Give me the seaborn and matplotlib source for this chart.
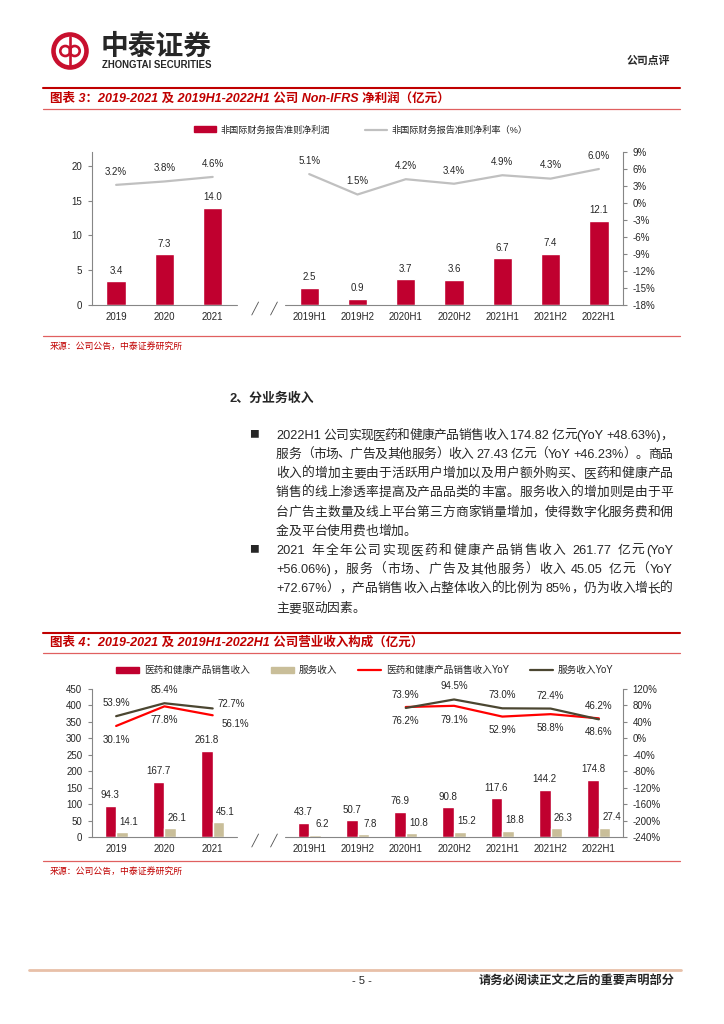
import re
import numpy as np
import pandas as pd
import matplotlib
matplotlib.use('Agg')
import matplotlib.pyplot as plt
import seaborn as sns
from matplotlib.patches import Patch, Circle
from matplotlib.lines import Line2D
from matplotlib.ticker import FuncFormatter

sns.set_style('white')
plt.rcParams['font.family'] = ['Liberation Sans', 'Noto Sans CJK SC', 'DejaVu Sans']
plt.rcParams['axes.unicode_minus'] = False

# ---- 数据 ----
years = ['2019', '2020', '2021']
halves = ['2019H1', '2019H2', '2020H1', '2020H2', '2021H1', '2021H2', '2022H1']
GAP = ' '
order = years + [GAP] + halves
periods = years + halves
seg = ['year'] * 3 + ['half'] * 7

# 图表3 Non-IFRS 净利润（亿元）与净利率（%）
profit = [3.4, 7.3, 14.0, 2.5, 0.9, 3.7, 3.6, 6.7, 7.4, 12.1]
margin = [3.2, 3.8, 4.6, 5.1, 1.5, 4.2, 3.4, 4.9, 4.3, 6.0]

# 图表4 营业收入构成（亿元）与同比（%）
drug_rev = [94.3, 167.7, 261.8, 43.7, 50.7, 76.9, 90.8, 117.6, 144.2, 174.8]
service_rev = [14.1, 26.1, 45.1, 6.2, 7.8, 10.8, 15.2, 18.8, 26.3, 27.4]
yoy_periods = ['2019', '2020', '2021', '2020H1', '2020H2', '2021H1', '2021H2', '2022H1']
yoy_seg = ['year'] * 3 + ['half'] * 5
drug_yoy = [30.1, 77.8, 56.1, 76.2, 79.1, 52.9, 58.8, 48.6]
service_yoy = [53.9, 85.4, 72.7, 73.9, 94.5, 73.0, 72.4, 46.2]

RED = '#C0002F'
TAN = '#C9BE99'
GRAY_LINE = '#C0C0C0'
RED_LINE = '#FF0000'
DARK_LINE = '#4B4631'
AXIS_GRAY = '#868686'
TITLE_RED = '#C00000'
SOFT_RED = '#E06060'

W, H = 724, 1024
fig = plt.figure(figsize=(W / 100, H / 100), dpi=100)

# 页面层，像素坐标
page = fig.add_axes([0, 0, 1, 1])
page.set_xlim(0, W)
page.set_ylim(H, 0)
page.axis('off')


def rect(l, t, r, b):
    return [l / W, 1 - b / H, (r - l) / W, (b - t) / H]


def style_axes(ax, axr, ylim, rlim, yticks, rticks, h_px):
    n = len(order)
    ax.set_xlim(-0.5, n - 0.5)
    ax.set_ylim(*ylim)
    axr.set_ylim(*rlim)
    ax.set_yticks(yticks)
    axr.set_yticks(rticks)
    axr.yaxis.set_major_formatter(FuncFormatter(lambda v, p: f'{v:.0f}%'))
    ax.set_xticks(range(n))
    ax.set_xticklabels(order)
    ax.set_xticks(np.arange(-0.5, n), minor=True)
    ax.tick_params(axis='x', which='major', length=0, pad=5, labelsize=7)
    ax.tick_params(axis='x', which='minor', length=3, width=0.8, color=AXIS_GRAY, direction='out')
    for a in (ax, axr):
        a.tick_params(axis='y', length=3, width=0.8, color=AXIS_GRAY, pad=4, labelsize=7, direction='out')
        a.set_xlabel('')
        a.set_ylabel('')
        a.set_facecolor('none')
        for s in a.spines.values():
            s.set_visible(False)
    ax.spines['left'].set_visible(True)
    ax.spines['left'].set_color(AXIS_GRAY)
    ax.spines['left'].set_linewidth(0.8)
    axr.spines['right'].set_visible(True)
    axr.spines['right'].set_color(AXIS_GRAY)
    axr.spines['right'].set_linewidth(0.8)
    # 断开的横轴
    gi = order.index(GAP)
    ax.axhline(ylim[0], xmin=0, xmax=gi / n, color=AXIS_GRAY, lw=0.8, clip_on=False)
    ax.axhline(ylim[0], xmin=(gi + 1) / n, xmax=1, color=AXIS_GRAY, lw=0.8, clip_on=False)
    tr = ax.get_xaxis_transform()
    for dx in (-0.12, 0.27):
        ax.plot([gi + dx - 0.07, gi + dx + 0.07], [-10 / h_px, 3 / h_px], color='#505050',
                lw=0.6, transform=tr, clip_on=False)


# ---- 图表 3 ----
ax1 = fig.add_axes(rect(92, 152, 623, 305))
df_profit = pd.DataFrame({'period': periods, 'profit': profit})
sns.barplot(data=df_profit, x='period', y='profit', order=order, color=RED,
            saturation=1, width=0.4, ax=ax1)
for c in ax1.containers:
    ax1.bar_label(c, fmt='%.1f', padding=4, fontsize=7)

ax1r = ax1.twinx()
df_margin = pd.DataFrame({'x': [order.index(p) for p in periods], 'margin': margin, 'seg': seg})
sns.lineplot(data=df_margin, x='x', y='margin', units='seg', estimator=None,
             color=GRAY_LINE, linewidth=1.6, ax=ax1r)
for x, v in zip(df_margin['x'], df_margin['margin']):
    ax1r.annotate(f'{v:.1f}%', (x, v), xytext=(0, 9.5), textcoords='offset points',
                  ha='center', va='center', fontsize=7)
style_axes(ax1, ax1r, (0, 22), (-18, 9), range(0, 21, 5), range(-18, 10, 3), 153)

fig.legend(handles=[Patch(color=RED), Line2D([], [], color=GRAY_LINE, lw=1.6)],
           labels=['非国际财务报告准则净利润', '非国际财务报告准则净利率（%）'],
           loc='center', bbox_to_anchor=(361 / W, 1 - 130 / H), ncol=2, frameon=False,
           fontsize=6.6, handlelength=2.4, handleheight=0.6, handletextpad=0.5, columnspacing=3.8)

# ---- 图表 4 ----
ax2 = fig.add_axes(rect(92, 689, 623, 837))
df_rev = pd.DataFrame({
    'period': periods * 2,
    'value': drug_rev + service_rev,
    'type': ['医药和健康产品销售收入'] * 10 + ['服务收入'] * 10,
})
sns.barplot(data=df_rev, x='period', y='value', hue='type', order=order,
            hue_order=['医药和健康产品销售收入', '服务收入'], palette=[RED, TAN],
            saturation=1, width=0.48, legend=False, ax=ax2)
for i, c in enumerate(ax2.containers):
    labs = ax2.bar_label(c, fmt='%.1f', padding=4, fontsize=7)
    if i == 1:
        for t in labs:
            t.xyann = (5, 4)

ax2r = ax2.twinx()
df_yoy = pd.DataFrame({
    'x': [order.index(p) for p in yoy_periods] * 2,
    'yoy': drug_yoy + service_yoy,
    'series': ['drug'] * 8 + ['service'] * 8,
    'seg': yoy_seg * 2,
})
sns.lineplot(data=df_yoy, x='x', y='yoy', hue='series', units='seg', estimator=None,
             palette={'drug': RED_LINE, 'service': DARK_LINE}, linewidth=1.6, legend=False, ax=ax2r)
for i, (x, v) in enumerate(zip(df_yoy['x'][:8], drug_yoy)):
    off = (16.5, -6) if i == 2 else (0, -10)
    ax2r.annotate(f'{v:.1f}%', (x, v), xytext=off, textcoords='offset points',
                  ha='center', va='center', fontsize=7)
for i, (x, v) in enumerate(zip(df_yoy['x'][8:], service_yoy)):
    off = (13, 3) if i == 2 else (0, 9.4)
    ax2r.annotate(f'{v:.1f}%', (x, v), xytext=off, textcoords='offset points',
                  ha='center', va='center', fontsize=7)
style_axes(ax2, ax2r, (0, 450), (-240, 120), range(0, 451, 50), range(-240, 121, 40), 148)

fig.legend(handles=[Patch(color=RED), Patch(color=TAN),
                    Line2D([], [], color=RED_LINE, lw=1.6), Line2D([], [], color=DARK_LINE, lw=1.6)],
           labels=['医药和健康产品销售收入', '服务收入', '医药和健康产品销售收入YoY', '服务收入YoY'],
           loc='center', bbox_to_anchor=(365 / W, 1 - 670 / H), ncol=4, frameon=False,
           fontsize=6.9, handlelength=2.4, handleheight=0.6, handletextpad=0.5, columnspacing=2.2)

# ---- 页眉 ----
page.add_patch(Circle((70, 51), 16.5, fill=False, ec='#C8102E', lw=3.3))
page.add_patch(Circle((65.3, 51), 5, fill=False, ec='#C8102E', lw=1.9))
page.add_patch(Circle((74.7, 51), 5, fill=False, ec='#C8102E', lw=1.9))
page.plot([70, 70], [37, 65], color='#C8102E', lw=1.9)
page.text(101, 47, '中泰证券', fontsize=20, fontweight='bold', va='center', ha='left',
          family=['Noto Sans CJK SC'])
page.text(102, 65, 'ZHONGTAI SECURITIES', fontsize=6.9, fontweight='bold', va='center', ha='left')
page.text(670, 61, '公司点评', fontsize=7.8, fontweight='bold', va='center', ha='right')


def block_frame(y_top, y_title, y_low, y_src, y_srctxt, title):
    page.plot([43, 680], [y_top, y_top], color=TITLE_RED, lw=1.5)
    page.text(50, y_title, title, color=TITLE_RED, fontsize=9, fontweight='bold',
              style='italic', va='center', ha='left')
    page.plot([43, 680], [y_low, y_low], color=SOFT_RED, lw=0.9)
    page.plot([43, 680], [y_src, y_src], color=SOFT_RED, lw=0.9)
    page.text(50, y_srctxt, '来源：公司公告，中泰证券研究所', color=TITLE_RED, fontsize=6.4,
              va='center', ha='left')


block_frame(88, 99, 109, 336, 346, '图表 3：2019-2021 及 2019H1-2022H1 公司 Non-IFRS 净利润（亿元）')
block_frame(633, 643, 653, 861, 871, '图表 4：2019-2021 及 2019H1-2022H1 公司营业收入构成（亿元）')

# ---- 正文 ----
renderer = fig.canvas.get_renderer()


def text_line(s, y, x0=276, x1=None, fs=9.2):
    toks = re.findall(r'[\x21-\x7e]+| +|.', s)
    yb = y + 0.36 * fs * 100 / 72
    items = []
    for t in toks:
        if t.strip() == '':
            items.append((None, len(t) * 0.278 * fs * 100 / 72))
        else:
            tx = page.text(0, yb, t, fontsize=fs, va='baseline', ha='left')
            items.append((tx, tx.get_window_extent(renderer).width))
    extra = 0
    if x1 is not None and len(items) > 1:
        extra = (x1 - x0 - sum(w for _, w in items)) / (len(items) - 1)
    x = x0
    for tx, w in items:
        if tx is not None:
            tx.set_x(x)
        x += w + extra


page.text(230, 399, '2、分业务收入', fontsize=9.3, fontweight='bold', va='center', ha='left')
body = [
    ('2022H1 公司实现医药和健康产品销售收入 174.82 亿元(YoY +48.63%)，', 434, True, True),
    ('服务（市场、广告及其他服务）收入 27.43 亿元（YoY +46.23%）。商品', 453, True, False),
    ('收入的增加主要由于活跃用户增加以及用户额外购买、医药和健康产品', 472.5, True, False),
    ('销售的线上渗透率提高及产品品类的丰富。服务收入的增加则是由于平', 491.5, True, False),
    ('台广告主数量及线上平台第三方商家销量增加，使得数字化服务费和佣', 511, True, False),
    ('金及平台使用费也增加。', 530, False, False),
    ('2021 年全年公司实现医药和健康产品销售收入 261.77 亿元(YoY', 549, True, True),
    ('+56.06%)，服务（市场、广告及其他服务）收入 45.05 亿元（YoY', 568.5, True, False),
    ('+72.67%），产品销售收入占整体收入的比例为 85%，仍为收入增长的', 587.5, True, False),
    ('主要驱动因素。', 607, False, False),
]
for s, y, just, bullet in body:
    text_line(s, y, x1=673 if just else None)
    if bullet:
        page.text(254, y, '■', fontsize=7, va='center', ha='center', family=['Noto Sans CJK SC'])

# ---- 页脚 ----
page.plot([29, 681], [970, 970], color='#E8C0A8', lw=2)
page.text(362, 981, '- 5 -', fontsize=8, va='center', ha='center')
page.text(675, 981, '请务必阅读正文之后的重要声明部分', fontsize=8.8, fontweight='bold',
          va='center', ha='right')

fig.savefig('out.png', dpi=100)
